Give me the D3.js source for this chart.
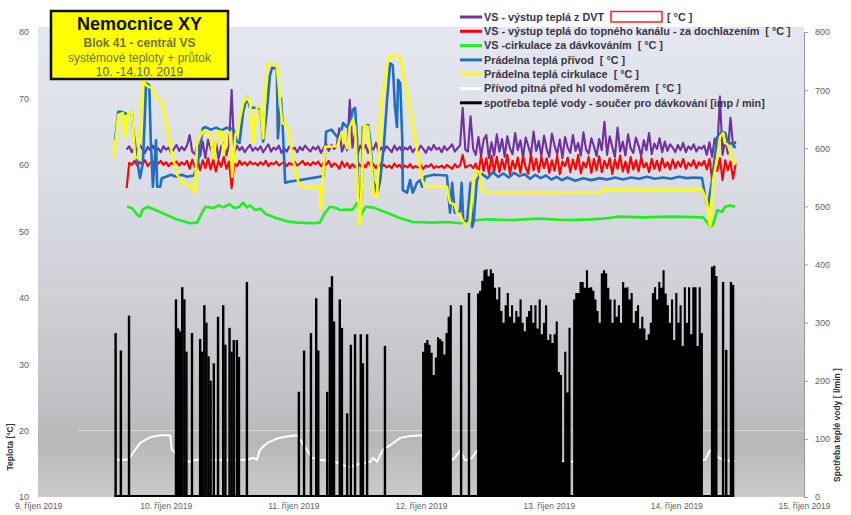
<!DOCTYPE html>
<html>
<head>
<meta charset="utf-8">
<script src="https://cdn.jsdelivr.net/npm/d3@7"></script>
<style>
  body { margin: 0; background: #fff; }
  svg { display: block; font-family: "Liberation Sans", Arial, sans-serif; }
  .pre { white-space: pre; }
</style>
</head>
<body>
<svg id="chart" width="851" height="515"></svg>
<script>
// ---- axis definitions -------------------------------------------------
const startDay = new Date(2019, 9, 9);
const endDay = new Date(2019, 9, 15);
const dayLabels = ["9. říjen 2019", "10. říjen 2019", "11. říjen 2019", "12. říjen 2019",
                   "13. říjen 2019", "14. říjen 2019", "15. říjen 2019"];
const tempTicks = [10, 20, 30, 40, 50, 60, 70, 80];
const flowTicks = [0, 100, 200, 300, 400, 500, 600, 700, 800];

const seriesNames = [
  "VS - výstup teplá z DVT",
  "VS - výstup teplá do topného kanálu - za dochlazením  [ °C ]",
  "VS -cirkulace za dávkováním  [ °C ]",
  "Prádelna teplá přívod  [ °C ]",
  "Prádelna teplá cirkulace  [ °C ]",
  "Přívod pitná před hl vodoměrem  [ °C ]",
  "spotřeba teplé vody - součer pro dávkování [imp / min]"
];
const seriesColors = ["#7030a0", "#ff0000", "#1eef1e", "#1f6fc4", "#ffff00", "#ffffff", "#000000"];

// ---- measured data (time = hours since 9.10.2019 00:00) ----------------
// logger samples of the two VS outlets, evenly spaced between these times
const vsFirst = 16.66, vsLast = 131.16;
const dvtOut = [
  62.3,62.8,61.9,62.6,62.1,63.0,62.4,61.8,62.7,62.2,
  62.9,62.0,62.5,61.9,62.8,62.3,62.6,61.8,62.4,63.0,
  62.1,62.7,62.2,62.9,64.5,62.0,61.6,63.2,61.3,63.5,
  61.0,63.8,62.4,61.5,63.6,60.9,62.8,63.4,61.4,63.0,
  71.3,61.8,62.9,62.2,62.7,61.9,62.5,63.0,62.1,62.6,
  62.2,62.8,61.9,62.5,63.1,62.0,62.6,62.3,62.9,61.8,
  62.5,62.0,62.8,62.3,62.6,61.9,62.7,62.2,62.9,62.4,
  62.0,62.7,62.3,62.8,61.8,62.5,63.2,62.1,63.0,62.4,
  62.8,65.5,62.0,63.1,62.2,69.8,62.6,64.8,61.7,62.9,
  62.2,63.0,61.8,62.7,62.3,63.3,61.9,62.6,62.1,62.8,
  62.4,61.9,62.9,62.2,62.7,62.0,62.6,62.3,62.8,61.9,
  62.5,62.1,62.9,62.4,61.8,62.7,62.2,63.0,62.3,62.6,
  61.9,62.8,62.2,62.6,63.1,62.0,62.5,62.9,68.6,62.3,
  62.0,67.3,62.4,61.5,64.2,61.3,63.8,64.5,61.0,63.4,
  61.4,64.6,62.0,63.9,61.2,64.3,62.5,61.6,64.8,62.2,
  63.7,61.1,64.1,62.8,61.5,65.0,62.1,63.6,61.3,64.4,
  62.4,61.2,64.7,62.9,61.6,63.8,61.0,64.2,62.6,61.8,
  64.5,62.1,63.3,61.4,64.9,62.3,61.7,64.0,62.8,61.3,
  63.9,62.2,66.5,61.5,64.3,62.7,61.2,65.6,62.0,63.5,
  61.4,64.6,62.5,61.8,64.1,62.9,61.3,63.7,62.2,64.8,
  61.6,63.2,62.4,64.0,61.9,63.5,62.1,63.1,62.6,61.9,
  63.0,62.2,63.3,61.9,62.8,62.3,63.1,62.0,62.7,62.4,
  62.9,61.5,63.4,61.2,64.0,62.3,70.3,61.5,63.8,61.7,
  67.1,62.8,63.5
];
const channelOut = [
  56.5,60.3,60.0,60.6,59.9,60.4,60.1,60.7,59.8,60.3,
  60.5,59.9,60.2,60.6,60.0,60.4,59.8,60.3,60.1,60.5,
  59.9,60.4,60.0,60.6,59.4,60.8,59.6,60.9,59.2,60.7,
  59.5,61.0,59.3,60.8,59.0,60.6,59.7,61.2,59.4,60.5,
  56.5,60.2,59.8,60.6,60.0,60.4,59.9,60.5,60.1,60.3,
  59.9,60.4,60.0,60.6,59.8,60.3,60.1,60.5,59.9,60.2,
  60.4,59.8,60.3,60.0,60.5,59.9,60.2,60.6,60.0,60.3,
  59.9,60.4,60.1,60.5,59.8,60.3,60.0,60.6,59.7,60.2,
  60.0,59.4,60.5,59.7,60.3,59.5,60.1,59.6,60.4,59.8,
  60.2,59.6,60.4,59.9,60.1,59.5,60.3,59.7,60.0,59.6,
  59.9,59.5,60.2,59.7,60.0,59.4,59.9,59.6,60.1,59.5,
  59.8,59.6,60.0,59.4,59.9,59.7,60.1,59.5,59.8,59.6,
  59.9,59.5,60.0,59.7,59.4,60.1,59.6,59.9,61.5,59.6,
  59.8,60.0,59.5,60.2,58.8,61.3,59.1,61.0,58.7,61.4,
  59.0,61.2,58.9,60.8,59.3,61.5,58.6,60.6,59.4,61.1,
  58.8,61.3,59.6,58.7,61.6,59.2,60.9,58.9,61.2,59.5,
  61.0,58.8,60.7,59.1,61.4,58.6,60.5,59.8,61.1,58.9,
  60.8,59.3,61.5,58.7,60.4,59.6,61.2,58.8,60.9,59.2,
  61.3,58.9,60.6,59.5,61.0,58.6,60.8,59.4,61.4,59.0,
  60.5,58.8,61.2,59.3,60.7,59.0,61.1,59.6,60.3,58.9,
  60.9,59.4,60.6,59.1,61.0,59.6,60.4,59.3,60.8,59.5,
  60.5,59.7,60.9,59.4,60.3,59.8,60.7,59.5,60.4,59.9,
  60.6,59.3,60.9,57.8,60.4,59.1,61.0,57.7,60.7,59.2,
  60.5,57.9,60.2
];
const circDosing = [
  [16.76,53.7],[17.65,53.5],[18.64,52.5],[19.13,52.2],[19.72,53.3],[20.61,53.7],[22.09,53.2],
  [24.06,52.5],[26.04,51.8],[28.61,51.2],[29.89,51.3],[30.97,53.0],[31.47,53.7],[32.95,53.5],
  [33.94,53.9],[34.92,53.6],[35.91,54.1],[36.90,53.5],[37.88,53.7],[38.58,54.3],[39.27,53.6],
  [39.86,53.9],[40.84,53.2],[41.83,53.4],[42.82,52.6],[44.79,52.0],[46.77,51.5],[48.74,51.3],
  [51.70,51.2],[52.98,51.3],[53.97,52.8],[54.86,53.7],[56.14,53.5],[56.73,53.2],[59.20,53.3],
  [59.99,54.3],[60.58,52.2],[61.57,53.7],[62.95,53.6],[65.62,52.8],[67.99,52.0],[70.45,51.4],
  [74.40,51.3],[76.87,51.4],[79.34,51.2],[81.80,51.6],[84.27,51.8],[89.21,51.7],[94.14,51.9],
  [99.08,51.7],[104.01,51.8],[106.19,51.9],[108.95,52.2],[113.88,52.1],[118.82,52.2],[125.04,52.1],
  [125.93,51.2],[126.32,50.6],[126.92,51.0],[127.70,53.2],[128.59,52.9],[129.18,53.7],[130.17,53.9],
  [131.06,53.7]
];
const laundrySupply = [
  [14.49,63.7],[15.08,68.0],[15.67,68.0],[16.50,67.7],[17.65,67.8],[17.85,65.5],[18.64,60.7],
  [19.18,58.0],[19.72,60.3],[20.12,68.0],[20.31,72.3],[20.91,72.0],[21.20,63.7],[21.60,56.7],
  [22.19,63.7],[22.39,56.7],[22.98,56.7],[23.27,58.0],[24.06,58.2],[25.00,58.5],[26.04,58.2],
  [27.00,58.5],[28.00,58.2],[29.30,58.4],[29.99,60.0],[30.97,65.5],[31.47,65.7],[32.50,65.3],
  [33.50,65.6],[34.50,65.2],[35.50,65.6],[36.70,65.4],[37.39,63.5],[37.88,63.3],[38.58,68.0],
  [39.27,70.2],[39.86,68.6],[41.14,68.6],[41.83,68.3],[42.33,63.5],[43.01,68.0],[43.61,73.5],
  [44.00,74.6],[44.89,74.5],[45.09,64.0],[45.68,70.0],[45.98,66.0],[46.47,57.3],[47.36,57.5],
  [49.23,57.7],[50.71,57.9],[52.98,58.2],[53.68,58.3],[54.17,65.0],[55.16,65.3],[56.73,63.7],
  [57.33,66.3],[58.12,65.7],[58.61,66.0],[59.20,68.3],[59.60,68.6],[59.99,63.7],[60.19,56.2],
  [60.58,52.8],[60.88,57.3],[61.08,65.7],[62.06,66.0],[62.46,63.7],[62.95,57.7],[63.74,55.8],
  [63.94,56.2],[64.33,57.7],[65.03,63.0],[65.62,69.8],[66.21,75.3],[66.70,75.0],[67.10,68.7],
  [67.49,65.7],[67.69,72.8],[68.09,72.3],[68.48,63.7],[68.58,56.2],[69.37,55.8],[69.96,57.7],
  [70.45,55.8],[71.24,57.3],[71.84,57.7],[72.23,56.7],[72.73,58.2],[74.40,58.5],[76.87,58.4],
  [77.46,52.8],[77.86,57.3],[78.35,52.8],[79.34,53.0],[79.64,57.3],[79.93,51.7],[80.62,51.2],
  [81.31,57.3],[81.61,50.6],[81.90,51.5],[82.50,57.7],[83.09,58.5],[83.50,58.6],[84.50,58.0],
  [85.50,58.9],[86.50,58.2],[87.50,58.7],[88.50,58.1],[89.50,58.8],[90.50,58.3],[91.50,58.6],
  [92.50,57.9],[93.50,58.5],[94.50,58.0],[95.50,58.4],[96.50,57.8],[97.50,58.2],[98.50,57.7],
  [99.50,58.1],[101.0,57.6],[102.5,58.0],[104.0,57.7],[105.5,58.0],[107.0,57.8],[108.5,58.1],
  [110.0,57.8],[111.5,58.1],[113.0,57.9],[114.5,58.2],[116.0,57.9],[117.5,58.1],[119.0,57.9],
  [120.5,58.2],[122.0,58.0],[123.5,58.1],[124.84,58.0],[125.43,55.2],[125.93,53.7],[126.72,57.7],
  [127.21,61.0],[127.70,64.2],[128.59,65.0],[129.18,64.8],[129.68,63.3],[130.67,63.2],[131.06,62.5]
];
const laundryCirc = [
  [14.29,61.0],[15.08,67.5],[15.97,67.8],[16.37,64.2],[16.96,67.8],[17.65,67.8],[18.24,61.2],
  [18.83,61.0],[19.72,72.8],[20.31,72.0],[21.40,71.5],[22.39,70.0],[23.27,69.5],[24.26,65.7],
  [25.15,61.8],[26.14,58.5],[27.22,57.3],[28.90,56.7],[29.49,55.9],[29.89,63.3],[30.87,64.9],
  [31.37,65.2],[32.35,64.5],[32.95,61.0],[33.74,65.0],[34.43,65.0],[34.92,61.5],[35.51,65.0],
  [36.11,64.8],[36.50,58.2],[37.09,64.5],[37.39,64.9],[38.58,69.3],[39.27,70.2],[39.86,69.3],
  [40.45,63.3],[41.14,68.7],[41.83,68.8],[42.33,64.0],[43.01,75.0],[43.61,75.3],[44.89,75.0],
  [45.88,66.3],[46.77,66.0],[47.36,63.7],[48.35,59.0],[49.23,56.7],[52.98,56.6],[53.18,53.2],
  [53.97,62.7],[56.24,62.8],[56.73,64.0],[57.13,65.0],[58.12,62.5],[58.61,65.7],[59.20,66.8],
  [59.60,65.7],[59.99,58.8],[60.29,52.8],[60.53,50.9],[60.88,57.3],[61.28,66.0],[62.06,65.7],
  [62.76,59.2],[63.15,55.2],[63.74,55.2],[63.94,59.2],[64.33,68.3],[65.62,75.0],[66.21,76.5],
  [68.09,76.2],[68.48,74.3],[69.37,70.8],[70.36,66.3],[71.24,62.2],[72.23,57.7],[72.73,56.7],
  [76.87,56.7],[77.46,54.3],[78.35,54.0],[78.75,52.8],[79.34,52.5],[79.93,51.4],[80.62,51.0],
  [81.21,51.5],[81.80,57.7],[82.50,59.2],[83.09,58.8],[83.48,56.2],[84.08,55.8],[94.14,55.8],
  [105.99,55.9],[106.19,56.3],[124.84,56.3],[125.43,55.2],[125.78,54.3],[126.32,50.6],[126.92,57.7],
  [127.70,61.2],[128.20,64.2],[128.79,64.8],[129.18,63.3],[129.68,63.0],[130.47,61.0],[131.06,60.0]
];
const coldInlet = [
  [14.88,15.6],[16.76,15.6],[17.25,15.9],[18.24,17.1],[19.18,18.1],[21.10,19.0],[22.98,19.3],
  [24.85,19.3],[25.15,17.1],[26.73,16.0],[28.21,15.3],[29.89,15.6],[32.35,15.6],[37.98,15.6],
  [39.27,15.6],[40.45,15.9],[41.14,15.6],[41.73,17.1],[43.01,18.1],[44.89,18.8],[46.77,19.1],
  [48.74,19.3],[50.22,17.5],[51.50,15.9],[52.98,15.6],[55.85,15.3],[58.32,14.5],[59.99,14.9],
  [62.46,15.3],[62.95,15.9],[63.74,15.3],[64.83,17.1],[66.21,17.8],[68.09,18.9],[69.96,19.2],
  [72.23,19.3],[73.71,17.5],[76.48,16.0],[78.06,15.6],[79.34,17.0],[80.33,15.5],[81.61,15.9],
  [82.50,17.0],[83.09,15.5],[99.08,15.3],[125.43,15.6],[126.32,17.0],[126.92,17.3],[127.80,16.0],
  [129.18,15.5],[131.06,15.4]
];
// hot water consumption [l/min]: single draw-offs ...
const flowSpikes = [
  [14.59,282],[15.58,252],[17.11,312],[25.94,340],[26.34,290],[26.73,285],[27.12,361],[27.52,340],
  [27.91,250],[28.95,282],[30.48,272],[30.87,250],[31.27,330],[31.66,300],[32.06,242],[32.45,200],
  [33.05,230],[33.84,310],[34.82,330],[35.22,262],[36.01,291],[36.40,250],[36.80,270],[37.39,270],
  [37.78,241],[39.27,370],[49.04,181],[50.02,252],[51.31,282],[52.30,342],[52.69,252],[54.37,181],
  [54.86,361],[55.26,380],[55.65,302],[56.73,340],[57.13,291],[58.12,144],[58.81,262],[59.60,280],
  [60.68,280],[61.08,230],[61.87,280],[65.22,260],[79.54,330],[81.02,351],[126.72,396],[127.11,398],
  [127.51,380],[128.79,370],[129.38,253],[130.27,370],[130.67,365]
];
// ... and continuous runs sampled every 24 minutes
const runStep = 0.4;
const runNightStart = 72.4;
const runNight = [250,265,270,262,248,210,240,275,272,268,245,282,310,330];
const runSatStart = 82.72;
const runSat = [350,355,372,390,392,380,392,385,360,340,361,320,300,330,351,310,330,300,320,310,
  340,300,285,310,320,330,300,330,290,340,280,300,330,270,280,265,280,302,215,210,60,250,180,291];
const runSunStart = 100.8;
const runSun = [340,351,351,370,370,360,390,360,361,355,340,320,300,385,390,385,360,340,300,340,
  310,330,300,370,360,361,340,351,300,320,330,290,310,290,270,280,300,351,361,340,
  370,360,390,350,330,300,340,270,351,300,330,260,361,300,361,280,361,361,260,361,282];

// ---- scales -------------------------------------------------------------
const svg = d3.select("#chart");
const plot = { left: 38, right: 804, top: 32, bottom: 497 };
const at = h => new Date(+startDay + h * 3600e3);
const x = d3.scaleTime().domain([startDay, endDay]).range([plot.left, plot.right]);
const yT = d3.scaleLinear().domain([10, 80]).range([plot.bottom, plot.top]);
const yF = d3.scaleLinear().domain([0, 800]).range([plot.bottom, plot.top]);

// ---- plot background ----------------------------------------------------
const defs = svg.append("defs");
const grad = defs.append("linearGradient").attr("id", "bg").attr("x1", 0).attr("y1", 0).attr("x2", 0).attr("y2", 1);
[[0, "#e5e7f0"], [0.3, "#dcdee6"], [0.55, "#d0d1d7"], [0.8, "#c0c1c4"], [0.88, "#b7b7b8"], [1, "#cbcbcb"]]
  .forEach(([o, c]) => grad.append("stop").attr("offset", o).attr("stop-color", c));
svg.append("rect").attr("x", plot.left).attr("y", 27)
  .attr("width", plot.right - plot.left).attr("height", plot.bottom - 27).attr("fill", "url(#bg)");
svg.append("line").attr("x1", 78).attr("x2", plot.right).attr("y1", yT(20)).attr("y2", yT(20))
  .attr("stroke", "#ffffff").attr("stroke-opacity", 0.45).attr("stroke-width", 1);

// ---- axes ---------------------------------------------------------------
const axisText = sel => sel.selectAll("text").attr("fill", "#5f5f5f").style("font-size", "9px");
svg.append("g").attr("transform", `translate(${plot.left},0)`)
  .call(d3.axisLeft(yT).tickValues(tempTicks).tickSize(0).tickPadding(9))
  .call(g => g.select(".domain").remove()).call(axisText);
svg.append("g").attr("transform", `translate(${plot.right},0)`)
  .call(d3.axisRight(yF).tickValues(flowTicks).tickSize(4).tickSizeOuter(0).tickPadding(7))
  .call(g => g.selectAll("line, .domain").attr("stroke", "#9a9a9a"))
  .call(axisText);
const dayTicks = d3.timeDay.range(startDay, d3.timeDay.offset(endDay, 1));
svg.append("g").attr("transform", `translate(0,${plot.bottom})`)
  .call(d3.axisBottom(x).tickValues(dayTicks).tickFormat((d, i) => dayLabels[i]).tickSize(0).tickPadding(6))
  .call(g => g.select(".domain").remove())
  .call(axisText).call(g => g.selectAll("text").style("font-size", "8.5px"));

svg.append("text").attr("transform", `translate(13,447) rotate(-90)`).attr("text-anchor", "middle")
  .style("font-size", "8.5px").style("font-weight", "bold").attr("fill", "#333").text("Teplota [°C]");
svg.append("text").attr("transform", `translate(840,425) rotate(-90)`).attr("text-anchor", "middle")
  .style("font-size", "8.5px").style("font-weight", "bold").attr("fill", "#333").text("Spotřeba teplé vody [ l/min ]");

// ---- temperature series -------------------------------------------------
const line = d3.line().x(d => x(at(d[0]))).y(d => yT(d[1]));
const vsTime = i => vsFirst + i * (vsLast - vsFirst) / (dvtOut.length - 1);
const layers = [
  { data: dvtOut.map((v, i) => [vsTime(i), v]), color: seriesColors[0], w: 2.1 },
  { data: channelOut.map((v, i) => [vsTime(i), v]), color: seriesColors[1], w: 2.1 },
  { data: circDosing, color: seriesColors[2], w: 2.6 },
  { data: laundrySupply, color: seriesColors[3], w: 2.6 },
  { data: laundryCirc, color: seriesColors[4], w: 2.6 },
  { data: coldInlet, color: seriesColors[5], w: 2 }
];
svg.append("g").selectAll("path").data(layers).join("path")
  .attr("d", d => line(d.data)).attr("fill", "none")
  .attr("stroke", d => d.color).attr("stroke-width", d => d.w)
  .attr("stroke-linejoin", "round");

// ---- consumption --------------------------------------------------------
const gFlow = svg.append("g").attr("fill", seriesColors[6]);
// single draw-offs as thin bars
gFlow.selectAll("rect").data(flowSpikes).join("rect")
  .attr("x", d => x(at(d[0])) - 1.2).attr("width", 2.4)
  .attr("y", d => yF(d[1])).attr("height", d => yF(0) - yF(d[1]));
// continuous runs as solid stepped areas
const runs = [[runNightStart, runNight], [runSatStart, runSat], [runSunStart, runSun]]
  .map(([start, vals]) => vals.map((v, i) => [start + i * runStep, v]));
const half = runStep / 2;
const runArea = d3.area().curve(d3.curveStep)
  .x(d => x(at(d[0]))).y0(yF(0)).y1(d => yF(d[1]));
gFlow.selectAll("path").data(runs).join("path")
  .attr("d", r => runArea([[r[0][0] - half, r[0][1]], ...r, [r[r.length - 1][0] + half, r[r.length - 1][1]]]));
const allH = flowSpikes.map(d => d[0]).concat(runs.flat().map(d => d[0]));
svg.append("line").attr("x1", x(at(d3.min(allH))) - 1).attr("x2", x(at(d3.max(allH))) + 1)
  .attr("y1", yF(0) - 1).attr("y2", yF(0) - 1).attr("stroke", "#000").attr("stroke-width", 2);

// ---- title box ----------------------------------------------------------
const tb = svg.append("g");
tb.append("rect").attr("x", 51).attr("y", 11).attr("width", 177).attr("height", 68)
  .attr("fill", "#ffff00").attr("stroke", "#111").attr("stroke-width", 2.5);
const tLines = [
  { t: "Nemocnice XY", y: 30, s: 18, w: "bold", c: "#111" },
  { t: "Blok 41 - centrál VS", y: 47, s: 12, w: "bold", c: "#72723e" },
  { t: "systémové teploty + průtok", y: 61.5, s: 12, w: "normal", c: "#72723e" },
  { t: "10. -14.10. 2019", y: 76, s: 12, w: "normal", c: "#5a5a30" }
];
tb.selectAll("text").data(tLines).join("text")
  .attr("x", 139.5).attr("y", d => d.y).attr("text-anchor", "middle")
  .style("font-size", d => d.s + "px").style("font-weight", d => d.w).attr("fill", d => d.c)
  .text(d => d.t);

// ---- legend -------------------------------------------------------------
const lg = svg.append("g");
const rowY = i => 17 + i * 14.3;
seriesNames.forEach((name, i) => {
  lg.append("line").attr("x1", 460).attr("x2", 482).attr("y1", rowY(i)).attr("y2", rowY(i))
    .attr("stroke", seriesColors[i]).attr("stroke-width", 3);
  lg.append("text").attr("class", "pre").attr("x", 484).attr("y", rowY(i) + 3.8)
    .style("font-size", "10.8px").style("font-weight", "bold").attr("fill", "#3b3448").text(name);
});
lg.append("rect").attr("x", 611).attr("y", 11.5).attr("width", 51).attr("height", 10.5)
  .attr("fill", "#ffffff").attr("stroke", "#ff2020").attr("stroke-width", 1.5);
lg.append("text").attr("class", "pre").attr("x", 667).attr("y", rowY(0) + 3.8)
  .style("font-size", "10.8px").style("font-weight", "bold").attr("fill", "#3b3448").text("[ °C ]");
</script>
</body>
</html>
